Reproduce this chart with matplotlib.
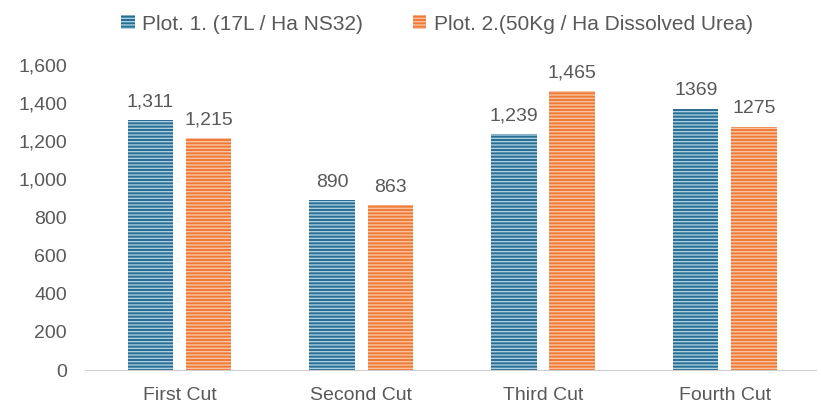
import numpy as np
import matplotlib
matplotlib.use("Agg")
import matplotlib.pyplot as plt

# =========================
# Data
# =========================
categories = ["First Cut", "Second Cut", "Third Cut", "Fourth Cut"]
plot1_values = [1311, 890, 1239, 1369]
plot2_values = [1215, 863, 1465, 1275]
plot1_labels = ["1,311", "890", "1,239", "1369"]
plot2_labels = ["1,215", "863", "1,465", "1275"]
series_names = ["Plot. 1. (17L / Ha NS32)", "Plot. 2.(50Kg / Ha Dissolved Urea)"]

BLUE = "#2A6D92"
BLUE_STRIPE = "#A9CFE3"
ORANGE = "#EE7B38"
ORANGE_STRIPE = "#F9C3A0"
TEXT = "#595959"

plt.rcParams["font.family"] = ["Liberation Sans", "DejaVu Sans"]
plt.rcParams["hatch.linewidth"] = 1.0

fig = plt.figure(figsize=(8.21, 4.08), dpi=100)
ax = fig.add_axes([0.1035, 0.093, 0.89, 0.748])

x = np.arange(len(categories))
w = 0.25
off = 0.16

b1 = ax.bar(x - off, plot1_values, w, color=BLUE, hatch="-----", edgecolor=BLUE_STRIPE,
            linewidth=0, label=series_names[0])
b2 = ax.bar(x + off, plot2_values, w, color=ORANGE, hatch="-----", edgecolor=ORANGE_STRIPE,
            linewidth=0, label=series_names[1])

for rect, lab in zip(b1, plot1_labels):
    ax.text(rect.get_x() + rect.get_width() / 2, rect.get_height() + 50, lab,
            ha="center", va="bottom", fontsize=14, color=TEXT)
for rect, lab in zip(b2, plot2_labels):
    ax.text(rect.get_x() + rect.get_width() / 2, rect.get_height() + 50, lab,
            ha="center", va="bottom", fontsize=14, color=TEXT)

ax.set_ylim(0, 1600)
ax.set_xlim(-0.52, 3.5)
ax.set_yticks(range(0, 1601, 200))
ax.set_yticklabels([f"{v:,}" for v in range(0, 1601, 200)])
ax.set_xticks(x)
ax.set_xticklabels(categories)
ax.tick_params(axis="both", length=0, labelsize=14, colors=TEXT)
ax.tick_params(axis="y", pad=13)
ax.tick_params(axis="x", pad=12)

for side in ["top", "right", "left"]:
    ax.spines[side].set_visible(False)
ax.spines["bottom"].set_color("#D0D0D0")

leg = fig.legend(handles=[b1, b2], labels=series_names, loc="upper center",
                 bbox_to_anchor=(0.532, 1.01), ncol=2, frameon=False,
                 fontsize=15, handlelength=0.65, handleheight=0.65,
                 handletextpad=0.35, columnspacing=2.4)
for t in leg.get_texts():
    t.set_color(TEXT)

fig.savefig("out.png", dpi=100)
